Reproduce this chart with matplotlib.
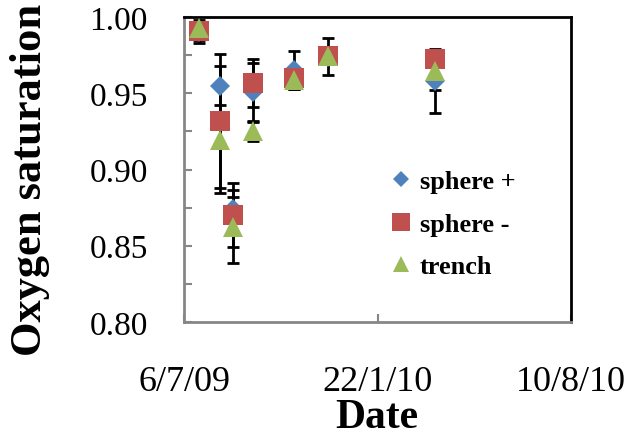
import datetime as dt
import matplotlib
matplotlib.use("Agg")
import matplotlib.pyplot as plt
from matplotlib.lines import Line2D

# Sampling dates
dates = [dt.datetime(2009, 7, 21), dt.datetime(2009, 8, 12), dt.datetime(2009, 8, 26),
         dt.datetime(2009, 9, 15), dt.datetime(2009, 10, 28), dt.datetime(2009, 12, 2),
         dt.datetime(2010, 3, 22)]

# Oxygen saturation per treatment and its error
sphere_plus = [0.990, 0.955, 0.874, 0.951, 0.965, 0.974, 0.958]
sphere_plus_err = [0.007, 0.013, 0.008, 0.019, 0.0125, 0.012, 0.021]
sphere_minus = [0.991, 0.932, 0.870, 0.957, 0.960, 0.9745, 0.9725]
sphere_minus_err = [0.006, 0.044, 0.021, 0.0157, 0.006, 0.005, 0.005]
trench = [0.993, 0.9195, 0.8625, 0.925, 0.959, 0.9745, 0.9645]
trench_err = [0.005, 0.035, 0.024, 0.006, 0.006, 0.005, 0.0125]

series_names = ["sphere +", "sphere -", "trench"]

x_ticks = [dt.datetime(2009, 7, 6), dt.datetime(2010, 1, 22), dt.datetime(2010, 8, 10)]
x_tick_labels = ["6/7/09", "22/1/10", "10/8/10"]
y_ticks = [0.80, 0.85, 0.90, 0.95, 1.00]
y_tick_labels = ["0.80", "0.85", "0.90", "0.95", "1.00"]

plt.rcParams["font.family"] = ["Liberation Serif", "DejaVu Serif"]

W, H = 630, 439
fig = plt.figure(figsize=(W / 100, H / 100), dpi=100)
ax = fig.add_axes([184 / W, 1 - 323 / H, (571 - 184) / W, (323 - 18) / H])

colors = ["#4F81BD", "#C0504D", "#9BBB59"]
markers = ["D", "s", "^"]
sizes = [10, 15, 14]
vals = [sphere_plus, sphere_minus, trench]
errs = [sphere_plus_err, sphere_minus_err, trench_err]

# error bars first, markers on top
for v, e in zip(vals, errs):
    ax.errorbar(dates, v, yerr=e, fmt="none", ecolor="black", elinewidth=2.0,
                capsize=4.3, capthick=2.0, zorder=2)
for i, (v, c, m, s) in enumerate(zip(vals, colors, markers, sizes)):
    ax.plot(dates, v, linestyle="none", marker=m, markersize=s, color=c,
            markeredgewidth=0, zorder=3 + i)

ax.set_xlim(x_ticks[0], x_ticks[-1])
ax.set_ylim(0.80, 1.00)
ax.set_xticks(x_ticks)
ax.set_xticklabels(x_tick_labels)
ax.set_yticks(y_ticks)
ax.set_yticklabels(y_tick_labels)
ax.set_yticks([0.825, 0.875, 0.925, 0.975], minor=True)

ax.tick_params(axis="y", which="both", direction="in", length=6, width=1.5,
               color="#868686", labelsize=24, pad=26)
ax.tick_params(axis="x", direction="in", length=6, width=1.5, color="#868686",
               labelsize=26, pad=31)

for side in ("left", "bottom"):
    ax.spines[side].set_color("#868686")
    ax.spines[side].set_linewidth(2)
for side in ("top", "right"):
    ax.spines[side].set_color("black")
    ax.spines[side].set_linewidth(2)

fig.text(30 / W, 1 - 180 / H, "Oxygen saturation", rotation=90, ha="center",
         va="center", fontsize=32, fontweight="bold")
fig.text(377 / W, 1 - 418 / H, "Date", ha="center", va="center", fontsize=30,
         fontweight="bold")

handles = [Line2D([], [], linestyle="none", marker=m, color=c, markersize=s * 0.85,
                  markeredgewidth=0) for m, c, s in zip(markers, colors, sizes)]
fig.legend(handles, series_names, loc="center left",
           bbox_to_anchor=(388 / W, 1 - 225 / H), frameon=False, handlelength=1.0,
           handletextpad=0.2, labelspacing=0.72, borderpad=0, borderaxespad=0,
           prop={"weight": "bold", "size": 19})

fig.savefig("out.png", dpi=100)
